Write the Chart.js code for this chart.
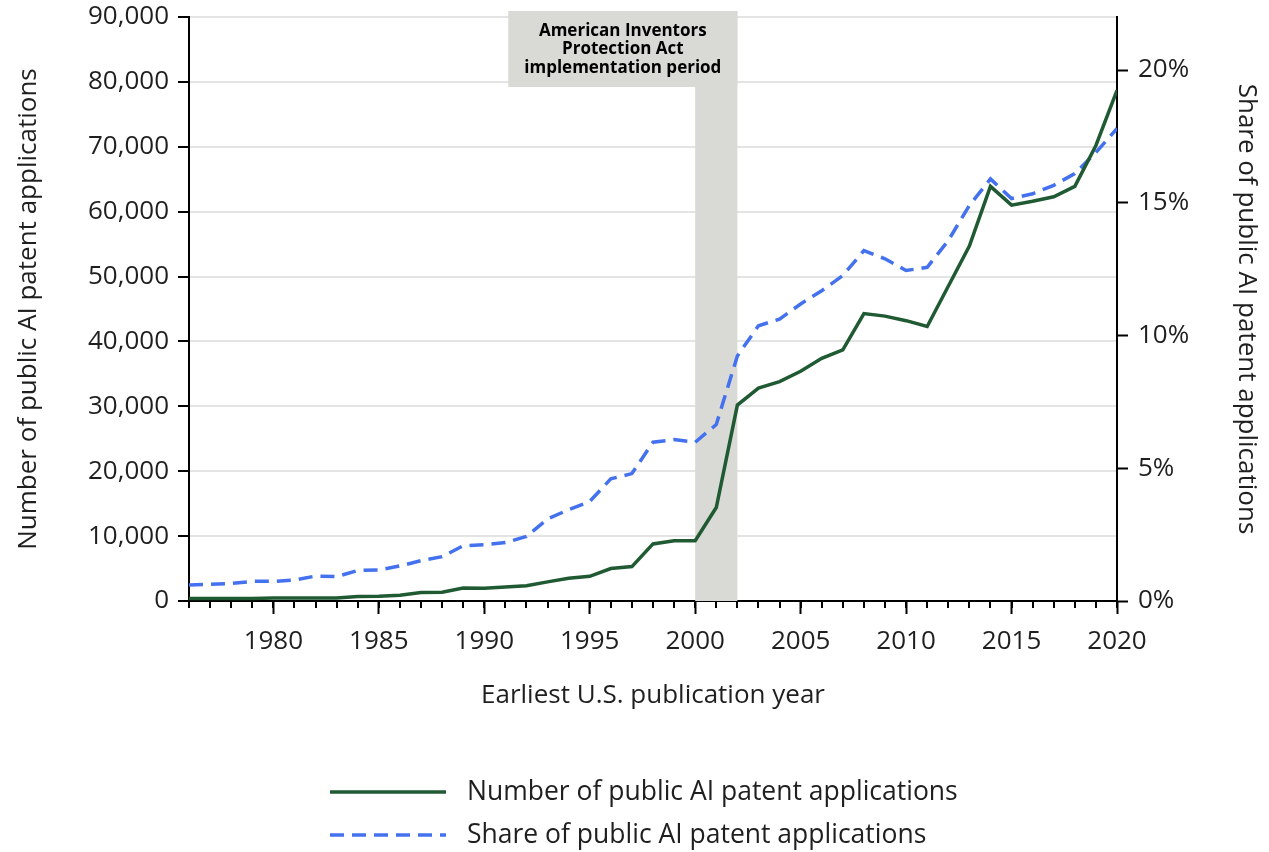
<!DOCTYPE html>
<html>
<head>
<meta charset="utf-8">
<script src="https://cdn.jsdelivr.net/npm/chart.js@4.4.1/dist/chart.umd.min.js"></script>
<style>
  html, body { margin: 0; padding: 0; background: #ffffff; }
  #wrap { width: 1269px; height: 852px; position: relative; }
</style>
</head>
<body>
<div id="wrap"><canvas id="c" width="1269" height="852"></canvas></div>
<script>
// ---- data ----
const years = [1976,1977,1978,1979,1980,1981,1982,1983,1984,1985,1986,1987,1988,1989,1990,1991,1992,1993,1994,1995,1996,1997,1998,1999,2000,2001,2002,2003,2004,2005,2006,2007,2008,2009,2010,2011,2012,2013,2014,2015,2016,2017,2018,2019,2020];
const applicationCounts = [400,400,400,400,450,450,450,450,700,750,900,1300,1350,2000,1950,2150,2350,2950,3500,3800,5000,5300,8800,9300,9300,14400,30200,32800,33800,35400,37400,38700,44300,43900,43200,42300,48500,54700,63900,61000,61600,62300,63900,70200,78700];
const applicationShares = [0.60,0.63,0.66,0.74,0.74,0.79,0.94,0.92,1.15,1.17,1.32,1.52,1.67,2.08,2.12,2.20,2.43,3.09,3.44,3.75,4.60,4.80,5.98,6.08,5.98,6.65,9.23,10.37,10.62,11.19,11.69,12.26,13.20,12.89,12.45,12.57,13.58,14.90,15.90,15.16,15.34,15.66,16.10,16.90,17.80];
const xTickYears = [1980,1985,1990,1995,2000,2005,2010,2015,2020];
const countTicks = [0,10000,20000,30000,40000,50000,60000,70000,80000,90000];
const shareTicks = [0,5,10,15,20];
const seriesLabels = ['Number of public AI patent applications','Share of public AI patent applications'];
const periodStart = 2000, periodEnd = 2002;
const periodLabel = ['American Inventors','Protection Act','implementation period'];
const axisTitles = {x:'Earliest U.S. publication year', y:'Number of public AI patent applications', y1:'Share of public AI patent applications'};

// ---- styles ----
const FONT = "'Open Sans', 'Noto Sans', sans-serif";
const FS = 26;
const TXT = '#1f1f1f';
const GREEN = '#1f5a33';
const BLUE = '#4472ee';
const BAND = '#d9d9d6';

const bandPlugin = {
  id: 'band',
  beforeDatasetsDraw(chart) {
    const {ctx, chartArea, scales} = chart;
    const x0 = scales.x.getPixelForValue(periodStart);
    const x1 = scales.x.getPixelForValue(periodEnd);
    ctx.save();
    ctx.fillStyle = BAND;
    ctx.fillRect(x0, chartArea.top - 6, x1 - x0, chartArea.bottom - chartArea.top + 6);
    ctx.font = "bold 17px " + FONT;
    let w = 0;
    periodLabel.forEach(t => { w = Math.max(w, ctx.measureText(t).width); });
    const boxW = w + 32;
    const boxTop = chartArea.top - 6;
    const boxH = 76;
    const bx = x1 - boxW;
    ctx.fillRect(bx, boxTop, boxW, boxH);
    ctx.fillStyle = '#000';
    ctx.textAlign = 'center';
    ctx.textBaseline = 'middle';
    const cx = bx + boxW / 2;
    periodLabel.forEach((t, i) => ctx.fillText(t, cx, boxTop + 20 + i * 18.4));
    ctx.restore();
  },
  afterDraw(chart) {
    // minor yearly tick marks on the x axis
    const {ctx, chartArea, scales} = chart;
    ctx.save();
    ctx.strokeStyle = '#000';
    ctx.lineWidth = 2;
    years.forEach(yr => {
      const px = Math.round(scales.x.getPixelForValue(yr));
      ctx.beginPath();
      ctx.moveTo(px, chartArea.bottom);
      ctx.lineTo(px, chartArea.bottom + 7);
      ctx.stroke();
    });
    ctx.restore();
  }
};

const legendPlugin = {
  id: 'customLegend',
  afterDraw(chart) {
    const {ctx} = chart;
    const left = 330, lineLen = 116, gap = 21, rowY = [792, 835];
    ctx.save();
    chart.data.datasets.forEach((ds, i) => {
      const y = rowY[i];
      ctx.strokeStyle = ds.borderColor;
      ctx.lineWidth = ds.borderWidth;
      ctx.setLineDash(ds.borderDash || []);
      ctx.beginPath();
      ctx.moveTo(left, y);
      ctx.lineTo(left + lineLen, y);
      ctx.stroke();
      ctx.setLineDash([]);
      ctx.fillStyle = TXT;
      ctx.font = "26.5px " + FONT;
      ctx.textBaseline = 'middle';
      ctx.textAlign = 'left';
      ctx.fillText(ds.label, left + lineLen + gap, y);
    });
    ctx.restore();
  }
};

const noVPad = s => { s.paddingTop = 0; s.paddingBottom = 0; };

new Chart(document.getElementById('c'), {
  type: 'line',
  data: {
    datasets: [
      {
        label: seriesLabels[0],
        data: years.map((yr, i) => ({x: yr, y: applicationCounts[i]})),
        yAxisID: 'y',
        borderColor: GREEN,
        borderWidth: 3.5,
        pointRadius: 0,
        tension: 0,
        fill: false
      },
      {
        label: seriesLabels[1],
        data: years.map((yr, i) => ({x: yr, y: applicationShares[i]})),
        yAxisID: 'y1',
        borderColor: BLUE,
        borderWidth: 3.5,
        borderDash: [14, 8],
        pointRadius: 0,
        tension: 0,
        fill: false
      }
    ]
  },
  options: {
    responsive: false,
    devicePixelRatio: 1,
    animation: false,
    layout: { padding: { top: 17, bottom: 139, left: 0, right: 0 } },
    plugins: { legend: { display: false }, tooltip: { enabled: false } },
    scales: {
      x: {
        type: 'linear',
        position: 'bottom',
        min: years[0],
        max: years[years.length - 1],
        afterBuildTicks: s => { s.ticks = xTickYears.map(v => ({value: v})); },
        afterFit: s => { s.height = 112; s.paddingLeft = 0; s.paddingRight = 0; },
        ticks: { callback: v => String(v), font: {size: FS, family: FONT}, color: TXT, padding: 12, maxRotation: 0 },
        grid: { drawOnChartArea: false, drawTicks: true, tickLength: 13, tickColor: '#000', tickWidth: 2 },
        border: { color: '#000', width: 2 },
        title: { display: true, text: axisTitles.x, font: {size: FS, family: FONT}, color: TXT, padding: {top: 0, bottom: 2} }
      },
      y: {
        position: 'left',
        min: 0,
        max: 90000,
        afterBuildTicks: s => { s.ticks = countTicks.map(v => ({value: v})); },
        afterFit: s => { s.width = 189; noVPad(s); },
        ticks: { callback: v => v.toLocaleString('en-US'), font: {size: FS, family: FONT}, color: TXT, padding: 9 },
        grid: { color: '#e4e4e4', lineWidth: 2, drawTicks: true, tickLength: 11, tickColor: '#000', tickWidth: 2 },
        border: { color: '#000', width: 2 },
        title: { display: true, text: axisTitles.y, font: {size: FS, family: FONT}, color: TXT, padding: {top: 13, bottom: 0} }
      },
      y1: {
        position: 'right',
        min: 0,
        max: 22,
        afterBuildTicks: s => { s.ticks = shareTicks.map(v => ({value: v})); },
        afterFit: s => { s.width = 152; noVPad(s); },
        ticks: { callback: v => v + '%', font: {size: FS, family: FONT}, color: TXT, padding: 10 },
        grid: { drawOnChartArea: false, drawTicks: true, tickLength: 11, tickColor: '#000', tickWidth: 2 },
        border: { color: '#000', width: 2 },
        title: { display: true, text: axisTitles.y1, font: {size: FS, family: FONT}, color: TXT, padding: {top: 7, bottom: 0} }
      }
    }
  },
  plugins: [bandPlugin, legendPlugin]
});
</script>
</body>
</html>
